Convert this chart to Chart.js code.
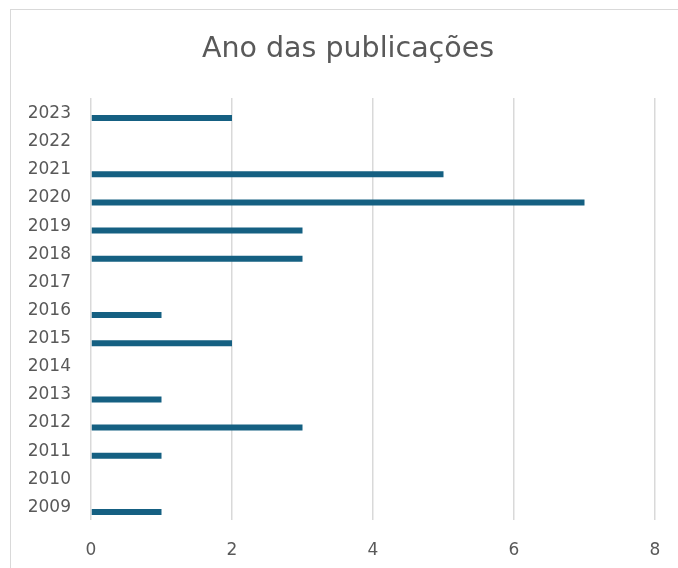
<!DOCTYPE html>
<html><head><meta charset="utf-8">
<script src="https://cdn.jsdelivr.net/npm/chart.js@4.4.1/dist/chart.umd.min.js"></script>
<style>
html,body{margin:0;padding:0;background:#fff;width:678px;height:568px;overflow:hidden;}
#frame{position:absolute;left:10px;top:9px;width:700px;height:600px;border:1px solid #d9d9d9;box-sizing:border-box;}
#wrap{position:absolute;left:0;top:0;width:678px;height:568px;}
</style></head>
<body>
<div id="frame"></div>
<div id="wrap"><canvas id="c"></canvas></div>
<script>
const categories = ["2023","2022","2021","2020","2019","2018","2017","2016","2015","2014","2013","2012","2011","2010","2009"];
const publications = [2,0,5,7,3,3,0,1,2,0,1,3,1,0,1];
const xTicks = [0,2,4,6,8];
const placeholder = categories.map(() => null);

const textColor = '#595959';
const tickFont = "'DejaVu Sans', sans-serif";

const widenLabelArea = {
  id: 'widenLabelArea',
  afterLayout(chart) { chart.scales.y.left = 0; }
};

new Chart(document.getElementById('c'), {
  type: 'bar',
  data: {
    labels: categories,
    datasets: [
      { label: '', data: placeholder, backgroundColor: 'rgba(0,0,0,0)' },
      { label: 'Ano das publicações', data: publications, backgroundColor: '#156082', borderWidth: 0 }
    ]
  },
  plugins: [widenLabelArea],
  options: {
    indexAxis: 'y',
    responsive: true,
    maintainAspectRatio: false,
    animation: false,
    categoryPercentage: 0.853,
    barPercentage: 0.5,
    layout: { padding: { left: 41, right: 23, top: 32, bottom: 0 } },
    plugins: {
      legend: { display: false },
      tooltip: { enabled: false },
      title: {
        display: true,
        text: 'Ano das publicações',
        color: textColor,
        font: { family: "'DejaVu Sans', sans-serif", size: 28.5, weight: 'normal' },
        padding: { top: 0, bottom: 31.8 }
      }
    },
    scales: {
      x: {
        type: 'linear',
        min: 0, max: 8,
        afterBuildTicks: (s) => { s.ticks = xTicks.map(v => ({ value: v })); },
        afterFit: (s) => { s.height = 48; s.paddingLeft = 0; s.paddingRight = 0; },
        grid: { color: '#d9d9d9', lineWidth: 1.5, drawTicks: false },
        border: { display: false },
        ticks: { color: textColor, font: { family: tickFont, size: 17 }, padding: 20 }
      },
      y: {
        type: 'category',
        afterFit: (s) => { s.width = 50; },
        grid: { display: false, drawTicks: false },
        border: { display: false },
        ticks: { color: textColor, font: { family: tickFont, size: 17 }, padding: 20, labelOffset: 1.5 }
      }
    }
  }
});
</script>
</body></html>
